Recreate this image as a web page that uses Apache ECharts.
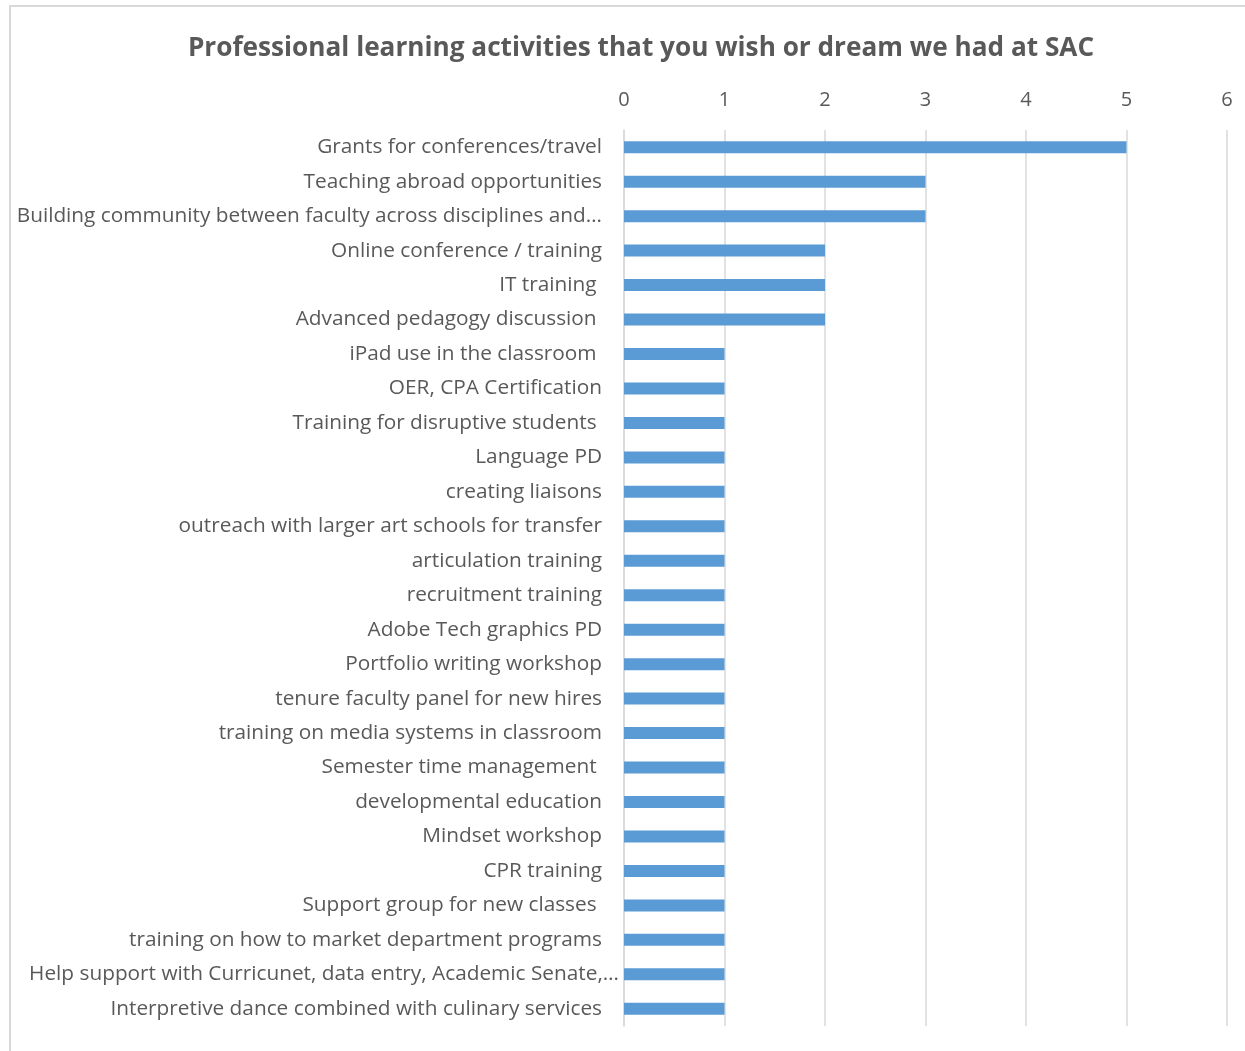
<!DOCTYPE html>
<html><head><meta charset="utf-8">
<script src="https://cdn.jsdelivr.net/npm/echarts@6/dist/echarts.min.js"></script>
<style>html,body{margin:0;padding:0;background:#fff}#c{width:1245px;height:1051px}</style>
</head><body><div id="c"></div>
<script>
const titleText = 'Professional learning activities that you wish or dream we had at SAC';
const categories = [
  'Grants for conferences/travel',
  'Teaching abroad opportunities',
  'Building community between faculty across disciplines and…',
  'Online conference / training',
  'IT training ',
  'Advanced pedagogy discussion ',
  'iPad use in the classroom ',
  'OER, CPA Certification',
  'Training for disruptive students ',
  'Language PD',
  'creating liaisons',
  'outreach with larger art schools for transfer',
  'articulation training',
  'recruitment training',
  'Adobe Tech graphics PD',
  'Portfolio writing workshop',
  'tenure faculty panel for new hires',
  'training on media systems in classroom',
  'Semester time management ',
  'developmental education',
  'Mindset workshop',
  'CPR training',
  'Support group for new classes ',
  'training on how to market department programs',
  'Help support with Curricunet, data entry, Academic Senate,…',
  'Interpretive dance combined with culinary services'
];
const values = [5,3,3,2,2,2,1,1,1,1,1,1,1,1,1,1,1,1,1,1,1,1,1,1,1,1];
const xTicks = [0,1,2,3,4,5,6];

const FONT = 'Open Sans';
const catData = categories.map(c => c.startsWith('Help support')
  ? {value:c, textStyle:{padding:[4,-17,0,0]}} : c);
const chart = echarts.init(document.getElementById('c'), null, {renderer:'canvas'});
chart.setOption({
  animation:false,
  textStyle:{fontFamily:FONT},
  title:{text:titleText,left:636,textAlign:'center',top:31,
    textStyle:{fontFamily:FONT,fontSize:26.2,fontWeight:'bold',color:'#595959'}},
  graphic:[{type:'rect',shape:{x:10,y:6,width:1400,height:1200},
    style:{fill:'none',stroke:'#D9D9D9',lineWidth:2},silent:true}],
  grid:{left:624,right:18,top:130,bottom:25,containLabel:false},
  xAxis:{type:'value',position:'top',min:xTicks[0],max:xTicks[xTicks.length-1],interval:1,
    axisLine:{show:false},axisTick:{show:false},
    axisLabel:{color:'#595959',fontSize:20,margin:20,fontFamily:FONT},
    splitLine:{show:true,lineStyle:{color:'#D9D9D9',width:1.5}}},
  yAxis:{type:'category',data:catData,inverse:true,
    axisLine:{show:true,lineStyle:{color:'#D9D9D9',width:1.5}},axisTick:{show:false},
    axisLabel:{color:'#595959',fontSize:20.8,margin:22,fontFamily:FONT,padding:[5,0,0,0]}},
  series:[{type:'bar',data:values,barWidth:12,itemStyle:{color:'#5B9BD5'}}]
});
</script></body></html>
